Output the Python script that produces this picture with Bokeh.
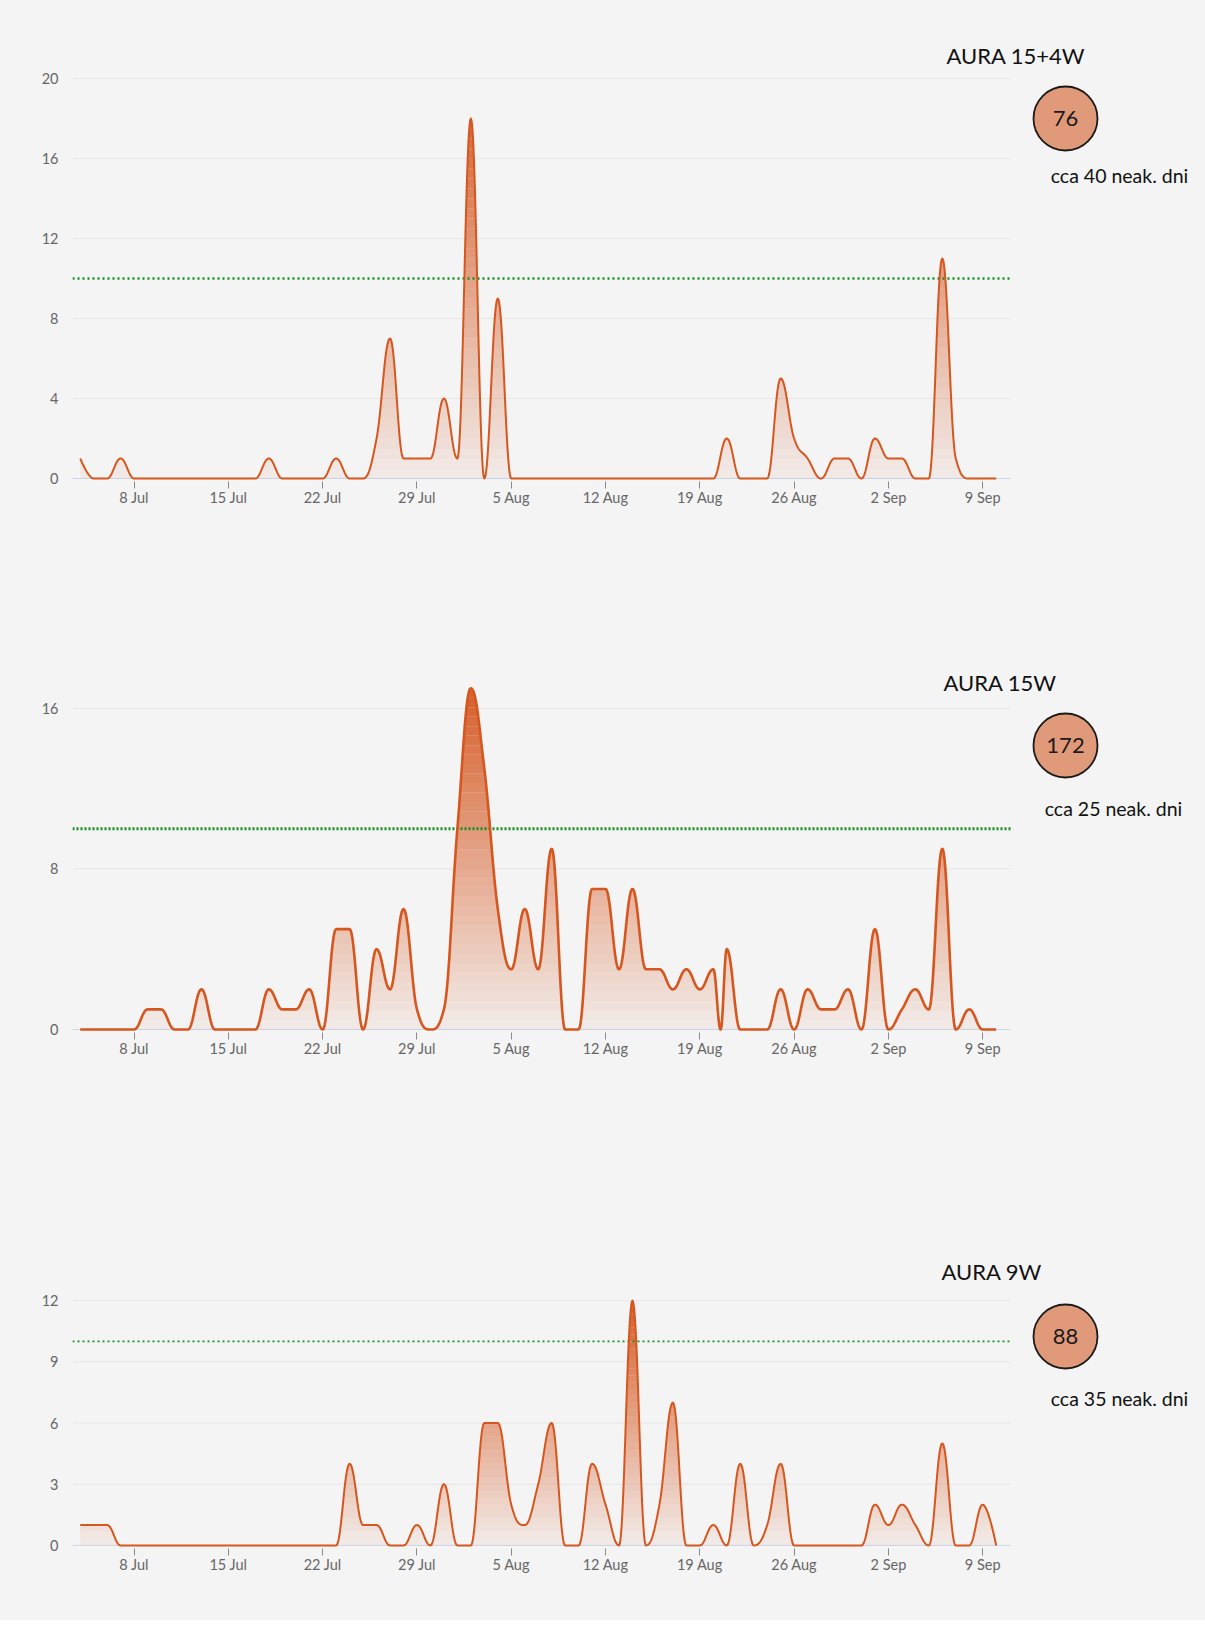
import numpy as np
import pandas as pd
from bokeh.plotting import figure
from bokeh.layouts import column
from bokeh.models import FixedTicker, Range1d
from bokeh.core.properties import value
from bokeh.embed import file_html
from bokeh.resources import INLINE

# ---------------- data ----------------
dates = pd.date_range("2019-07-04", "2019-09-10", freq="D")

aura_15_4w = [
    1, 0, 0, 1,                                        # 4-7 Jul
    0, 0, 0, 0, 0, 0, 0, 0, 0, 0,                      # 8-17 Jul
    1, 0, 0, 0, 0, 1, 0, 0,                            # 18-25 Jul
    2, 7, 1, 1, 1, 4,                                  # 26-31 Jul
    1, 18, 0, 9,                                       # 1-4 Aug
    0, 0, 0, 0, 0, 0, 0, 0, 0, 0, 0, 0, 0, 0, 0, 0,    # 5-20 Aug
    2, 0, 0, 0, 5, 2, 1, 0, 1, 1, 0,                   # 21-31 Aug
    2, 1, 1, 0, 0, 11, 1, 0, 0, 0,                     # 1-10 Sep
]

aura_15w = [
    0, 0, 0, 0, 0,                                     # 4-8 Jul
    1, 1, 0, 0, 2, 0, 0, 0, 0,                         # 9-17 Jul
    2, 1, 1, 2, 0, 5, 5, 0,                            # 18-25 Jul
    4, 2, 6, 1, 0, 1,                                  # 26-31 Jul
    10, 17, 13, 6, 3, 6, 3, 9, 0, 0,                   # 1-10 Aug
    7, 7, 3, 7, 3, 3, 2, 3, 2, 3,                      # 11-20 Aug
    4, 0, 0, 0, 2, 0, 2, 1, 1, 2, 0,                   # 21-31 Aug
    5, 0, 1, 2, 1, 9, 0, 1, 0, 0,                      # 1-10 Sep
]
aura_15w_extra_dates = ["2019-08-20 13:00"]
aura_15w_extra_values = [0]

aura_9w = [
    1, 1, 1,                                           # 4-6 Jul
    0, 0, 0, 0, 0, 0, 0, 0, 0, 0, 0, 0, 0, 0, 0, 0, 0, # 7-23 Jul
    4, 1, 1, 0, 0, 1, 0, 3,                            # 24-31 Jul
    0, 0, 6, 6, 2, 1, 3, 6, 0, 0,                      # 1-10 Aug
    4, 2, 0, 12, 0, 2, 7, 0, 0, 1,                     # 11-20 Aug
    0, 4, 0, 1, 4, 0, 0, 0, 0, 0, 0,                   # 21-31 Aug
    2, 1, 2, 1, 0, 5, 0, 0, 2, 0,                      # 1-10 Sep
]

tick_dates = ["2019-07-08", "2019-07-15", "2019-07-22", "2019-07-29", "2019-08-05",
              "2019-08-12", "2019-08-19", "2019-08-26", "2019-09-02", "2019-09-09"]
tick_labels = ["8 Jul", "15 Jul", "22 Jul", "29 Jul", "5 Aug",
               "12 Aug", "19 Aug", "26 Aug", "2 Sep", "9 Sep"]

titles = ["AURA 15+4W", "AURA 15W", "AURA 9W"]
totals = ["76", "172", "88"]
notes = ["cca 40 neak. dni", "cca 25 neak. dni", "cca 35 neak. dni"]
y_ticks = [[0, 4, 8, 12, 16, 20], [0, 8, 16], [0, 3, 6, 9, 12]]
threshold = 10

# ---------------- styling / layout ----------------
ORIGIN = pd.Timestamp("2019-07-01")
LINE = "#D5561E"
BG = "#F4F4F4"
GRID = "#E6E6E6"
GREEN = "#12901E"
FONT = "Lato"
FIG_W = 1205
X0_PAGE = 72           # page x of frame left
MBL = X0_PAGE
PPD = 13.47            # pixels per day
TICK_REF_PAGE = 133.6  # page x of 8 Jul


def to_days(ts):
    return (pd.to_datetime(ts) - ORIGIN) / pd.Timedelta(days=1)


x_start = 7 - (TICK_REF_PAGE - X0_PAGE) / PPD
x_end = x_start + (FIG_W - MBL) / PPD
x_plot_end = 7 + (1010 - TICK_REF_PAGE) / PPD


def hc_spline(xs, ys, n=24):
    xs = np.asarray(xs, float)
    ys = np.asarray(ys, float)
    m = len(xs)
    lcx, lcy, rcx, rcy = xs.copy(), ys.copy(), xs.copy(), ys.copy()
    s = 1.5
    d = s + 1
    for i in range(1, m - 1):
        px, py = xs[i], ys[i]
        lx, ly = xs[i - 1], ys[i - 1]
        nx, ny = xs[i + 1], ys[i + 1]
        a_x = (s * px + lx) / d
        a_y = (s * py + ly) / d
        b_x = (s * px + nx) / d
        b_y = (s * py + ny) / d
        if b_x != a_x:
            corr = (b_y - a_y) * (b_x - px) / (b_x - a_x) + py - b_y
            a_y += corr
            b_y += corr
        if a_y > ly and a_y > py:
            a_y = max(ly, py)
            b_y = 2 * py - a_y
        elif a_y < ly and a_y < py:
            a_y = min(ly, py)
            b_y = 2 * py - a_y
        if b_y > ny and b_y > py:
            b_y = max(ny, py)
            a_y = 2 * py - b_y
        elif b_y < ny and b_y < py:
            b_y = min(ny, py)
            a_y = 2 * py - b_y
        lcx[i], lcy[i], rcx[i], rcy[i] = a_x, a_y, b_x, b_y
    t = np.linspace(0, 1, n)
    X = [xs[:1]]
    Y = [ys[:1]]
    for i in range(1, m):
        p0 = np.array([xs[i - 1], ys[i - 1]])
        c1 = np.array([rcx[i - 1], rcy[i - 1]])
        c2 = np.array([lcx[i], lcy[i]])
        p3 = np.array([xs[i], ys[i]])
        tt = t[1:, None]
        pts = ((1 - tt) ** 3) * p0 + 3 * ((1 - tt) ** 2) * tt * c1 + 3 * (1 - tt) * tt ** 2 * c2 + tt ** 3 * p3
        X.append(pts[:, 0])
        Y.append(pts[:, 1])
    return np.concatenate(X), np.concatenate(Y)


def make_chart(k, xs, ys, fig_top_page, fig_h, mbt, frame_h, ppu, grad_top, line_w, dash, dash_w,
               title_page, circle_page, note_page):
    y_start = -0.15
    y_end = y_start + frame_h / ppu
    mbb = fig_h - mbt - frame_h
    frame_bottom_page = fig_top_page + mbt + frame_h

    def dx(page_x):
        return x_start + (page_x - X0_PAGE) / PPD

    def dy(page_y):
        return y_start + (frame_bottom_page - page_y) / ppu

    p = figure(width=FIG_W, height=fig_h, output_backend="svg", toolbar_location=None,
               x_range=Range1d(x_start, x_end), y_range=Range1d(y_start, y_end),
               min_border_left=MBL, min_border_right=0, min_border_top=mbt,
               min_border_bottom=mbb)
    p.background_fill_color = BG
    p.border_fill_color = BG
    p.outline_line_color = None
    p.xgrid.visible = False
    p.ygrid.visible = False

    # gridlines and baseline
    gl = [v for v in y_ticks[k] if v != 0]
    p.segment(x0=[x_start] * len(gl), y0=gl, x1=[x_plot_end] * len(gl), y1=gl,
              line_color=GRID, line_width=1)
    p.segment(x0=[x_start], y0=[0], x1=[x_plot_end], y1=[0], line_color="#CCD6EB", line_width=1)

    X, Y = hc_spline(xs, ys)
    Y = np.maximum(Y, 0)
    nslab = 36
    ymax = max(Y.max(), 0.01)
    edges = np.linspace(0, ymax, nslab + 1)
    for a, b in zip(edges[:-1], edges[1:]):
        mid = 0.5 * (a + b)
        alpha = min(1.0, 0.05 + 0.95 * mid / grad_top)
        p.varea(x=X, y1=np.full_like(Y, a), y2=np.clip(Y, a, b),
                fill_color=LINE, fill_alpha=alpha)

    # threshold line
    p.line([x_start, x_plot_end], [threshold, threshold], line_color=GREEN,
           line_width=dash_w, line_dash=dash)

    p.line(X, Y, line_color=LINE, line_width=line_w, line_join="round")

    # axes
    p.yaxis.ticker = FixedTicker(ticks=y_ticks[k])
    p.yaxis.axis_line_color = None
    p.yaxis.major_tick_line_color = None
    p.yaxis.minor_tick_line_color = None
    p.yaxis.major_label_standoff = 8
    p.yaxis.major_label_text_font = FONT
    p.yaxis.major_label_text_font_size = "14.5px"
    p.yaxis.major_label_text_color = "#666666"

    tdays = [float(v) for v in to_days(pd.Series(tick_dates))]
    p.xaxis.ticker = FixedTicker(ticks=tdays)
    p.xaxis.major_label_overrides = {d: lab for d, lab in zip(tdays, tick_labels)}
    p.xaxis.axis_line_color = None
    p.xaxis.major_tick_in = 0
    p.xaxis.major_tick_out = 7
    p.xaxis.major_tick_line_color = "#8A8A8A"
    p.xaxis.minor_tick_line_color = None
    p.xaxis.major_label_standoff = 0
    p.xaxis.major_label_text_font = FONT
    p.xaxis.major_label_text_font_size = "14.5px"
    p.xaxis.major_label_text_color = "#666666"

    # right-side annotations (page coords -> data coords)
    p.text(x=[dx(title_page[0])], y=[dy(title_page[1])], text=[titles[k]],
           text_font=value(FONT), text_font_size="22px", text_color="#111111",
           text_align="left", text_baseline="middle")
    cx, cy = dx(circle_page[0]), dy(circle_page[1])
    p.scatter(x=[cx], y=[cy], size=64, marker="circle", fill_color="#E09A7A",
              line_color="#1A1A1A", line_width=1.8)
    p.text(x=[cx], y=[cy], text=[totals[k]], text_font=value(FONT), text_font_size="22px",
           text_color="#1A1A1A", text_align="center", text_baseline="middle")
    p.text(x=[dx(note_page[0])], y=[dy(note_page[1])], text=[notes[k]],
           text_font=value(FONT), text_font_size="19.5px", text_color="#111111",
           text_align="center", text_baseline="middle")
    return p


days = to_days(pd.Series(dates)).to_numpy()

x1, y1 = days, np.array(aura_15_4w, float)

x2 = np.concatenate([days, to_days(pd.Series(aura_15w_extra_dates)).to_numpy()])
y2 = np.concatenate([np.array(aura_15w, float), np.array(aura_15w_extra_values, float)])
order = np.argsort(x2)
x2, y2 = x2[order], y2[order]

x3, y3 = days, np.array(aura_9w, float)

p1 = make_chart(0, x1, y1, fig_top_page=0, fig_h=596, mbt=40, frame_h=441, ppu=20.0,
                grad_top=20.0, line_w=2, dash="2 3", dash_w=2.6,
                title_page=(946, 55), circle_page=(1065, 118), note_page=(1119, 175))
p2 = make_chart(1, x2, y2, fig_top_page=596, fig_h=564, mbt=64, frame_h=372, ppu=20.07,
                grad_top=18.0, line_w=2.6, dash="2 2", dash_w=3,
                title_page=(943, 682), circle_page=(1065, 745), note_page=(1113, 808))
p3 = make_chart(2, x3, y3, fig_top_page=1160, fig_h=460, mbt=95, frame_h=293, ppu=20.4,
                grad_top=12.5, line_w=2, dash="2 3", dash_w=1.7,
                title_page=(941, 1271), circle_page=(1065, 1336), note_page=(1119, 1398))

layout = column(p1, p2, p3, spacing=0, styles={"background-color": BG})
open("out.html", "w").write(file_html(layout, INLINE))
